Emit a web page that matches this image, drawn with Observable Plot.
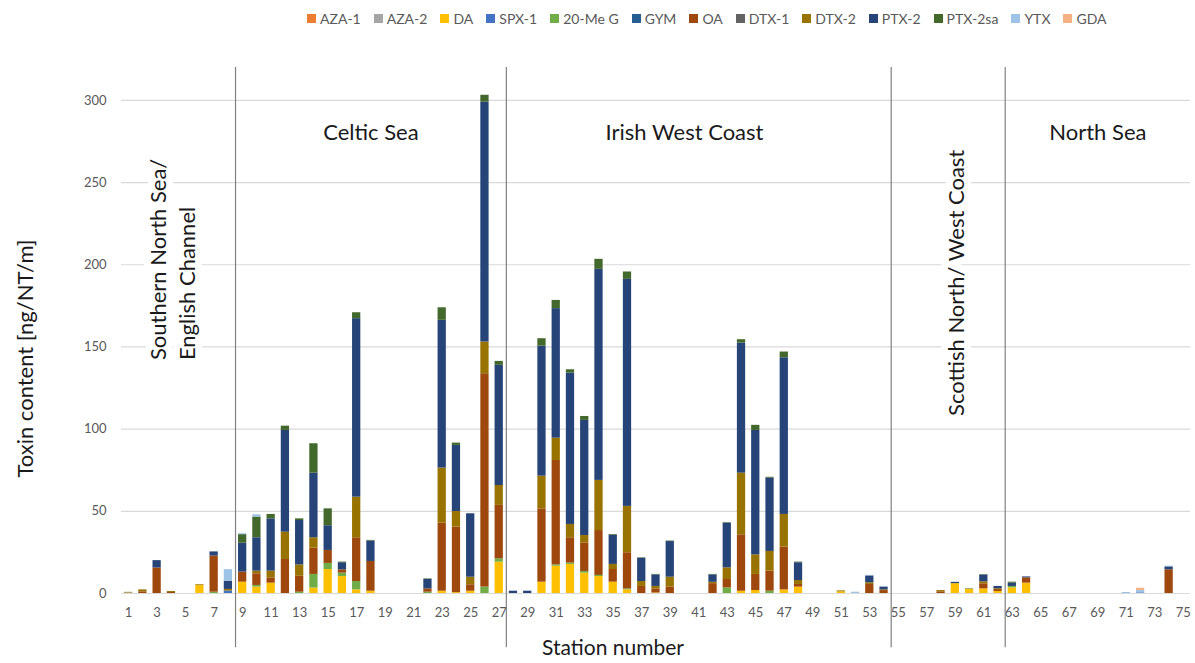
<!DOCTYPE html>
<html><head><meta charset="utf-8">
<script src="https://cdn.jsdelivr.net/npm/d3@7"></script>
<script src="https://cdn.jsdelivr.net/npm/@observablehq/plot@0.6"></script>
<style>
body{margin:0;background:#fff;font-family:Lato,"Liberation Sans",sans-serif;}
#wrap{position:relative;width:1195px;height:663px;overflow:hidden;}
#wrap svg{position:absolute;left:0;top:0;}
#legend{position:absolute;top:10px;left:307px;display:flex;font-size:14px;color:#595959;white-space:nowrap;z-index:2;}
.item{display:flex;align-items:center;margin-right:13px;}
.sw{width:9px;height:9px;margin-right:4px;}
</style></head><body><div id="wrap"><div id="legend"></div></div>
<script>
const stations = d3.range(1, 76);
const xTickLabels = [1,3,5,7,9,11,13,15,17,19,21,23,25,27,29,31,33,35,37,39,41,43,45,47,49,51,53,55,57,59,61,63,65,67,69,71,73,75];
const yTicks = [0, 50, 100, 150, 200, 250, 300];
const toxins = ["AZA-1","AZA-2","DA","SPX-1","20-Me G","GYM","OA","DTX-1","DTX-2","PTX-2","PTX-2sa","YTX","GDA"];
const toxinColors = ["#ED7D31","#A5A5A5","#FFC000","#4472C4","#70AD47","#255E91","#9E480E","#636363","#997300","#264478","#43682B","#9DC3E6","#F4B183"];

// values per station 1..75 (ng/NT/m)
const AZA1 = [0,0,0,0,0,0,0,0,0,0, 0,0,0,0,0,0,0,0,0,0, 0,0,0,0,0,0,0,0,0,0, 0,0,0,0,0,0,0,0,0,0, 0,0,0,0,0,0,0,0,0,0, 0,0,0,0,0,0,0,0,0,0, 0,0,0,0,0,0,0,0,0,0, 0,0,0,0,0];
const AZA2 = [0.3,0,0,0,0,0,0,0,0,0, 0,0,0,0,0,0,0,0,0,0, 0,0,0,0,0,0,0,0,0,0, 0,0,0,0,0,0,0,0,0,0, 0,0,0,0,0,0,0,0,0,0, 0,0,0,0,0,0,0,0,0,0, 0,0,0,0,0,0,0,0,0,0, 0,0,0,0,0];
const DA = [0,0,0,0,0,4.8,0,0,6.9,3.9, 6.3,0,0,3.3,14.6,10.3,2.2,1.4,0,0, 0,0,1.4,0.5,1.4,0,19.1,0,0,6.9, 16.6,17.7,12.4,10.3,6.9,2.2,0,0.3,0,0, 0,0,0,1.4,1.8,0,2.2,3.9,0,0, 1,0,0,0,0,0,0,0,6,2.5, 2.8,1.2,3.4,6.3,0,0,0,0,0,0, 0,0,0,0,0];
const SPX1 = [0,0,0,0,0,0,0,1.5,0,0, 0,0,0,0,0,0,0,0,0,0, 0,0,0,0,0,0,0,0,0,0, 0,0,0,0,0,0,0,0,0,0, 0,0,0,0,0,0,0,0,0,0, 0,0,0,0,0,0,0,0,0,0, 0,0,0,0,0,0,0,0,0,0, 0,0.4,0,0,0];
const MeG = [0,0,0,0,0,0,0.8,0,0,1, 0,0,0.8,8.3,3.7,2.1,5.1,0,0,0, 0,0.8,0,0,0,3.9,2,0,0,0, 0.8,0.8,1,0.7,0,0.6,0,0,0,0, 0,0,3.4,0,0,1.4,0,0,0,0, 0,0,0,0,0,0,0,0,0,0, 0,0,0.9,0,0,0,0,0,0,0, 0,0,0,0,0];
const GYM = [0,0,0,0,0,0,0,0,0,0, 0,0,0,0,0,0,0,0,0,0, 0,0,0,0,0,0,0,0,0,0, 0,0,0,0,0,0,0,0,0,0, 0,0,0,0,0,0,0,0,0,0, 0,0,0,0,0,0,0,0,0,0, 0,0,0,0,0,0,0,0,0,0, 0,0,0,0,0];
const OA = [0,1,15.5,0.6,0,0,22,0,6.1,7.1, 3.2,20.7,9.7,16,7.9,2,26.6,18.1,0,0, 0,2,41.4,39.9,3.9,129.8,32.5,0,0,44.6, 63.5,15.4,17.4,27.3,7.7,22,4.3,2.5,3.9,0, 0,6,5.1,34.3,9.8,12.2,26,1.6,0,0, 0,0,5.5,1.8,0,0,0,1,0,0, 3.1,1.2,0,3.2,0,0,0,0,0,0, 0,0,0,14.4,0];
const DTX1 = [0,0,0,0,0,0,0,0,0,0, 0,0,0,0,0,0,0,0,0,0, 0,0,0,0,0,0,0,0,0,0, 0,0,0,0,0,0,0,0,0,0, 0,0,0,0,0,0,0,0,0,0, 0,0,0,0,0,0,0,0,0,0, 0,0,0,0,0,0,0,0,0,0, 0,0,0,0,0];
const DTX2 = [0.4,1.2,0,0.6,0,0.5,0,1,0,1.6, 4.1,16.6,6.9,6.3,0,0,24.7,0,0,0, 0,0,33.5,9.5,4.6,19.3,12.1,0,0,19.9, 13.6,8.1,4.5,30.5,3.1,28.2,3,1.5,6,0, 0,0.8,7.1,37.5,11.9,12,19.9,2.4,0,0, 0.6,0,1,0.4,0,0,0,0.8,0,0, 1.2,0.5,0,0,0,0,0,0,0,0, 0,0,0,0,0];
const PTX2 = [0,0,4.5,0,0,0,2.5,5,17.6,20.3, 31.8,61.9,27,39.3,15,4.3,108.6,12.4,0,0, 0,5.8,89.9,40.2,38.6,146,73.1,1.4,1.4,79.1, 78.8,92.1,70,128.4,17.8,138.1,14.1,7,21.7,0, 0,4.5,27.2,79.2,75.7,44.6,95.3,10.8,0,0, 0,0,4.2,1.7,0,0,0,0,0.8,0, 4.1,1.4,2,0.6,0,0,0,0,0,0, 0,0,0,1.8,0];
const PTX2sa = [0,0,0,0,0,0,0,0,5.2,12.6, 2.7,2.6,1,17.9,10.3,0.4,3.6,0.4,0,0, 0,0.3,7.6,1.4,0,4.1,2.4,0,0,4.5, 5,2,2.4,6.1,0.4,4.5,0.3,0.3,0.3,0, 0,0.3,0.3,2,3.1,0.5,3.5,0.4,0,0, 0,0,0,0,0,0,0,0,0,0.3, 0.3,0,0.6,0,0,0,0,0,0,0, 0,0,0,0,0];
const YTX = [0,0,0,0,0,0,0,7,0.6,1.4, 0,0,0,0,0,0,0,0,0,0, 0,0,0,0,0,0,0,0,0,0, 0,0,0,0,0,0,0,0,0,0, 0,0,0,0,0,0,0,0,0,0, 0,0.8,0.3,0,0,0,0,0,0,0, 0,0,0,0,0,0,0,0,0,0, 0.6,1.4,0,0.4,0];
const GDA = [0,0,0,0,0,0,0,0,0,0, 0,0,0,0,0,0,0,0,0,0, 0,0,0,0,0,0,0,0,0,0, 0,0,0,0,0,0,0,0,0,0, 0,0,0,0,0,0,0,0,0,0, 0,0,0,0,0,0,0,0,0,0, 0,0,0,0,0,0,0,0,0,0, 0,1.4,0,0,0];

const regionBoundaries = [8, 27, 54, 62]; // last station of each region
const regionNames = ["Celtic Sea", "Irish West Coast", "North Sea"];
const regionStations = [18, 40, 69];
const regionLevels = [280, 280, 280];
const verticalNames = ["Southern North Sea/\nEnglish Channel", "Scottish North/ West Coast"];
const verticalStations = [4, 59];
const verticalLevels = [142, 108];

const seriesValues = [AZA1, AZA2, DA, SPX1, MeG, GYM, OA, DTX1, DTX2, PTX2, PTX2sa, YTX, GDA];
const table = [];
toxins.forEach((t, i) => stations.forEach((s, j) => {
  if (seriesValues[i][j] > 0) table.push({station: s, toxin: t, value: seriesValues[i][j]});
}));

const W = 1195, H = 663, mL = 121, mR = 5, mT = 67, mB = 70;
const step = (W - mL - mR) / stations.length;

const plot = Plot.plot({
  width: W, height: H,
  marginLeft: mL, marginRight: mR, marginTop: mT, marginBottom: mB,
  style: {fontFamily: "Lato, 'Liberation Sans', sans-serif", fontSize: "13px", color: "#595959", background: "white"},
  x: {type: "band", domain: stations, paddingInner: 0.42, paddingOuter: 0.21, round: false, ticks: xTickLabels, tickSize: 0, tickPadding: 14, label: null},
  y: {domain: [0, 320], ticks: yTicks, tickSize: 0, tickPadding: 15, label: null},
  color: {domain: toxins, range: toxinColors},
  marks: [
    Plot.ruleY(yTicks, {stroke: "#d9d9d9", strokeWidth: 1.2}),
    Plot.barY(table, {x: "station", y: "value", fill: "toxin", order: toxins}),
    Plot.ruleX(regionBoundaries, {x: d => d, y1: -33, y2: 320, dx: step / 2, stroke: "#808080", strokeWidth: 1.2}),
    Plot.text(regionNames, {x: (d, i) => regionStations[i], y: (d, i) => regionLevels[i], text: d => d,
      fontSize: 22, fill: "#1a1a1a", stroke: "white", strokeWidth: 12}),
    Plot.text(verticalNames, {x: (d, i) => verticalStations[i], y: (d, i) => verticalLevels[i], text: d => d,
      rotate: -90, textAnchor: "start", lineHeight: 1.3, fontSize: 22, fill: "#1a1a1a", stroke: "white", strokeWidth: 14}),
    Plot.text(["Toxin content [ng/NT/m]"], {frameAnchor: "left", textAnchor: "middle", rotate: -90, dx: -96, dy: 28, fontSize: 22, fill: "#1a1a1a", text: d => d}),
    Plot.text(["Station number"], {frameAnchor: "bottom", textAnchor: "middle", lineAnchor: "middle", dx: -43, dy: 55, fontSize: 21, fill: "#1a1a1a", text: d => d})
  ]
});
document.getElementById("wrap").appendChild(plot);

const legend = document.getElementById("legend");
toxins.forEach((t, i) => {
  const item = document.createElement("div");
  item.className = "item";
  const sw = document.createElement("span");
  sw.className = "sw";
  sw.style.background = toxinColors[i];
  const lab = document.createElement("span");
  lab.textContent = t;
  item.appendChild(sw); item.appendChild(lab);
  legend.appendChild(item);
});
</script>
</body></html>
